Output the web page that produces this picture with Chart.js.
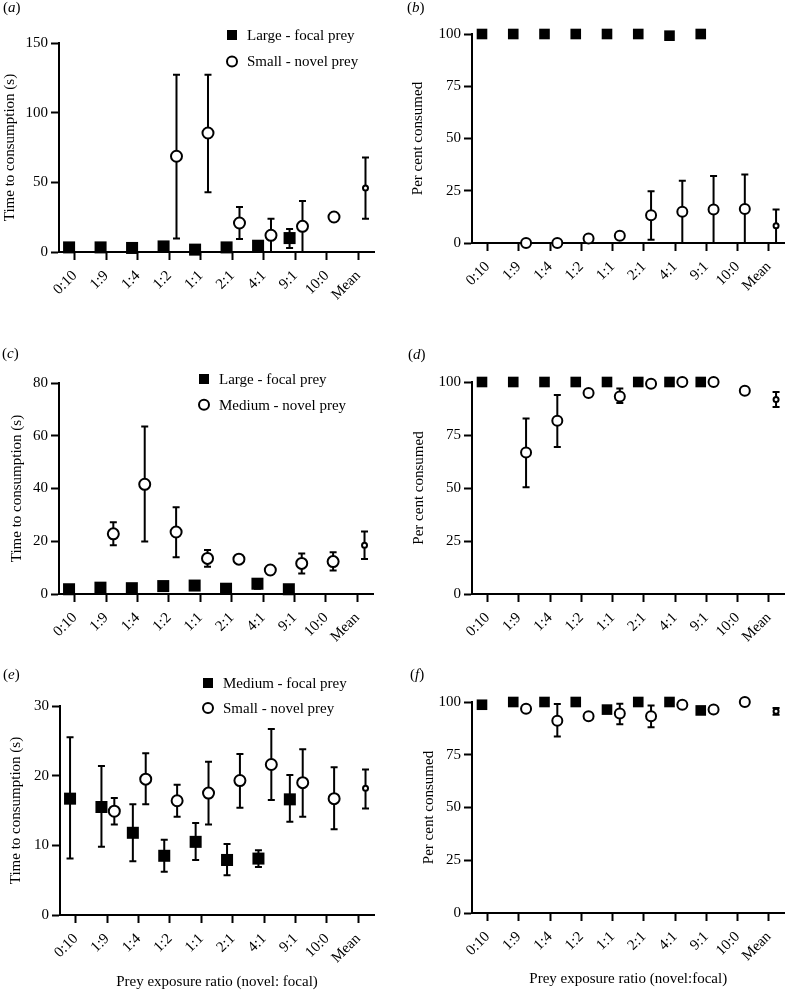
<!DOCTYPE html>
<html>
<head>
<meta charset="utf-8">
<script src="https://cdn.jsdelivr.net/npm/chart.js@4.4.0/dist/chart.umd.min.js"></script>
<style>
  body { margin: 0; background: #fff; }
  #fig { position: relative; width: 792px; height: 991px; font-family: 'Liberation Serif', serif; color: #000; }
  #fig canvas { position: absolute; }
  .tag { position: absolute; font-size: 15px; line-height: 15px; }
</style>
</head>
<body>
<div id="fig">
  <canvas id="pa" width="396" height="320" style="left:0;top:0"></canvas>
  <canvas id="pb" width="396" height="320" style="left:396px;top:0"></canvas>
  <canvas id="pc" width="396" height="335" style="left:0;top:320px"></canvas>
  <canvas id="pd" width="396" height="335" style="left:396px;top:320px"></canvas>
  <canvas id="pe" width="396" height="351" style="left:0;top:640px"></canvas>
  <canvas id="pf" width="396" height="351" style="left:396px;top:640px"></canvas>
  <div class="tag" style="left:3px;top:0">(<i>a</i>)</div>
  <div class="tag" style="left:407px;top:0">(<i>b</i>)</div>
  <div class="tag" style="left:2px;top:346px">(<i>c</i>)</div>
  <div class="tag" style="left:408px;top:347px">(<i>d</i>)</div>
  <div class="tag" style="left:3px;top:667px">(<i>e</i>)</div>
  <div class="tag" style="left:410px;top:667px">(<i>f</i>)</div>
</div>
<script>
// prey exposure ratios (novel:focal)
const ratioLabels = ['0:10', '1:9', '1:4', '1:2', '1:1', '2:1', '4:1', '9:1', '10:0', 'Mean'];

// (a) time to consumption, large focal / small novel
const aFocalMean = [3.3, 3.3, 2.9, 4.0, 1.7, 3.3, 4.5, 10.0, null, null];
const aFocalLow  = [null, null, null, null, null, null, null, 2.9, null, null];
const aFocalHigh = [null, null, null, null, null, null, null, 16.5, null, null];
const aNovelMean = [null, null, null, 68.7, 85.4, 20.8, 12.0, 18.4, 25.1, 45.9];
const aNovelLow  = [null, null, null, 9.6, 42.8, 9.3, 0, 0, null, 23.9];
const aNovelHigh = [null, null, null, 127.3, 127.3, 32.3, 23.9, 36.6, null, 67.9];

// (b) per cent consumed, large focal / small novel
const bFocalMean = [100, 100, 100, 100, 100, 100, 99.2, 100, null, null];
const bNovelMean = [null, 0, 0, 2.1, 3.5, 13.3, 14.9, 16.0, 16.3, 8.2];
const bNovelLow  = [null, null, null, null, null, 1.6, 0, 0, 0, 0];
const bNovelHigh = [null, null, null, null, null, 24.8, 29.8, 32.0, 32.8, 16.0];

// (c) time to consumption, large focal / medium novel
const cFocalMean = [1.8, 2.4, 2.2, 3.0, 3.2, 2.0, 3.9, 1.8, null, null];
const cFocalLow  = [null, null, null, null, null, null, 2.0, null, null, null];
const cFocalHigh = [null, null, null, null, null, null, 5.3, null, null, null];
const cNovelMean = [null, 22.8, 41.6, 23.5, 13.5, 13.2, 9.1, 11.6, 12.3, 18.5];
const cNovelLow  = [null, 18.5, 19.9, 13.9, 10.3, null, null, 7.8, 8.9, 13.3];
const cNovelHigh = [null, 27.2, 63.5, 32.9, 16.7, null, null, 15.4, 15.8, 23.7];

// (d) per cent consumed, large focal / medium novel
const dFocalMean = [100, 100, 100, 100, 100, 100, 100, 100, null, null];
const dNovelMean = [null, 66.8, 81.7, 94.8, 93.2, 99.2, 100, 100, 95.9, 91.7];
const dNovelLow  = [null, 50.4, 69.3, null, 90.1, null, null, null, null, 88.2];
const dNovelHigh = [null, 82.8, 93.9, null, 96.9, null, null, null, null, 95.3];

// (e) time to consumption, medium focal / small novel
const eFocalMean = [16.7, 15.5, 11.8, 8.5, 10.5, 7.9, 8.1, 16.6, null, null];
const eFocalLow  = [8.1, 9.8, 7.7, 6.2, 7.9, 5.7, 6.9, 13.4, null, null];
const eFocalHigh = [25.5, 21.4, 15.9, 10.8, 13.2, 10.2, 9.3, 20.1, null, null];
const eNovelMean = [null, 14.9, 19.5, 16.4, 17.5, 19.3, 21.6, 19.0, 16.7, 18.2];
const eNovelLow  = [null, 13.0, 15.9, 14.1, 13.0, 15.4, 16.5, 14.1, 12.3, 15.3];
const eNovelHigh = [null, 16.8, 23.2, 18.7, 22.0, 23.1, 26.7, 23.8, 21.2, 20.9];

// (f) per cent consumed, medium focal / small novel
const fFocalMean = [98.7, 100, 100, 100, 96.4, 100, 100, 96.0, null, null];
const fFocalLow  = [null, null, null, null, null, null, null, 94.6, null, null];
const fFocalHigh = [null, null, null, null, null, null, null, 97.6, null, null];
const fNovelMean = [null, 96.8, 91.1, 93.2, 94.5, 93.2, 98.7, 96.4, 100, 95.6];
const fNovelLow  = [null, null, 83.7, null, 89.5, 88.0, null, null, null, 93.9];
const fNovelHigh = [null, null, 99.0, null, 99.2, 98.4, null, null, null, 97.1];

// side-by-side dodge of the two series around each tick
const FOCAL_SHIFT = -0.18;
const NOVEL_SHIFT = 0.23;
const serif = 'Liberation Serif';

function toPoints(values, shift) {
    return values
        .map((v, i) => v === null ? null : { x: i + shift, y: v, i: i })
        .filter(p => p !== null);
}

// vertical error bars with small caps
const errorBars = {
    id: 'errorBars',
    beforeDatasetsDraw(chart) {
        const { ctx, scales: { x, y } } = chart;
        ctx.save();
        ctx.strokeStyle = '#000';
        ctx.lineWidth = 2;
        chart.data.datasets.forEach(ds => {
            ds.data.forEach(p => {
                const lo = ds.errLow[p.i], hi = ds.errHigh[p.i];
                if (lo === null || hi === null) return;
                const px = x.getPixelForValue(p.x);
                const y1 = y.getPixelForValue(lo), y2 = y.getPixelForValue(hi);
                ctx.beginPath();
                ctx.moveTo(px, y1); ctx.lineTo(px, y2);
                ctx.moveTo(px - 3.5, y1); ctx.lineTo(px + 3.5, y1);
                ctx.moveTo(px - 3.5, y2); ctx.lineTo(px + 3.5, y2);
                ctx.stroke();
            });
        });
        ctx.restore();
    }
};

// legend: filled square for focal prey, open circle for novel prey
const markerKey = {
    id: 'markerKey',
    afterDraw(chart, args, opts) {
        const ctx = chart.ctx;
        ctx.save();
        ctx.font = '15px "' + serif + '"';
        ctx.textBaseline = 'middle';
        [1, 0].forEach((di, row) => {
            const ds = chart.data.datasets[di];
            const y = opts.y + row * opts.gap;
            ctx.fillStyle = '#000';
            if (ds.pointStyle === 'rect') {
                ctx.fillRect(opts.x - 5, y - 5, 10, 10);
            } else {
                ctx.beginPath();
                ctx.arc(opts.x, y, 5, 0, Math.PI * 2);
                ctx.fillStyle = '#fff';
                ctx.fill();
                ctx.lineWidth = 2;
                ctx.strokeStyle = '#000';
                ctx.stroke();
                ctx.fillStyle = '#000';
            }
            ctx.fillText(ds.label, opts.x + 15, y + 1);
        });
        ctx.restore();
    }
};

Chart.register(errorBars, markerKey);

function panel(id, o) {
    const font = { family: serif, size: 15 };
    return new Chart(document.getElementById(id), {
        type: 'scatter',
        data: {
            datasets: [{
                label: o.novelLabel,
                data: toPoints(o.novel, NOVEL_SHIFT),
                errLow: o.novelLow, errHigh: o.novelHigh,
                pointStyle: 'circle',
                pointRadius: c => c.raw && c.raw.i === ratioLabels.length - 1 ? o.meanR : o.circleR,
                backgroundColor: '#fff',
                borderColor: '#000',
                borderWidth: 2,
                clip: false,
                order: 0
            }, {
                label: o.focalLabel,
                data: toPoints(o.focal, FOCAL_SHIFT),
                errLow: o.focalLow, errHigh: o.focalHigh,
                pointStyle: 'rect',
                pointRadius: o.squareR,
                backgroundColor: '#000',
                borderColor: '#000',
                borderWidth: 0,
                clip: false,
                order: 1
            }]
        },
        options: {
            responsive: false,
            animation: false,
            events: [],
            layout: { padding: { top: o.top, right: o.right, left: 0, bottom: 0 } },
            scales: {
                x: {
                    type: 'linear',
                    min: -0.5,
                    max: 9.5,
                    afterBuildTicks: s => { s.ticks = ratioLabels.map((_, i) => ({ value: i })); },
                    afterFit: s => { s.height = o.xh; },
                    ticks: {
                        callback: v => ratioLabels[v],
                        minRotation: 45,
                        maxRotation: 45,
                        autoSkip: false,
                        padding: 7,
                        color: '#000',
                        font: font
                    },
                    grid: { drawOnChartArea: false, tickLength: 8, tickWidth: 2, tickColor: '#000' },
                    border: { color: '#000', width: 2 },
                    title: {
                        display: !!o.xTitle,
                        text: o.xTitle || '',
                        color: '#000',
                        font: font,
                        padding: { top: 0, bottom: o.xTitlePad || 0 }
                    }
                },
                y: {
                    min: 0,
                    max: o.ymax,
                    afterFit: s => { s.width = o.yw; },
                    ticks: { stepSize: o.step, padding: 3, color: '#000', font: font },
                    grid: { drawOnChartArea: false, tickLength: 8, tickWidth: 2, tickColor: '#000' },
                    border: { color: '#000', width: 2 },
                    title: {
                        display: true,
                        text: o.yTitle,
                        color: '#000',
                        font: font,
                        padding: { top: o.yTitlePad, bottom: 0 }
                    }
                }
            },
            plugins: {
                legend: { display: false },
                tooltip: { enabled: false },
                markerKey: o.key || false
            }
        }
    });
}

const timeTitle = 'Time to consumption (s)';
const pctTitle = 'Per cent consumed';

panel('pa', {
    focal: aFocalMean, focalLow: aFocalLow, focalHigh: aFocalHigh,
    novel: aNovelMean, novelLow: aNovelLow, novelHigh: aNovelHigh,
    focalLabel: 'Large - focal prey', novelLabel: 'Small - novel prey',
    ymax: 150, step: 50, yTitle: timeTitle, yTitlePad: 1,
    top: 43, right: 22, yw: 59, xh: 68,
    squareR: 8.5, circleR: 5.5, meanR: 2.5,
    key: { x: 232, y: 35, gap: 26.5 }
});

panel('pb', {
    focal: bFocalMean, focalLow: bFocalMean.map(() => null), focalHigh: bFocalMean.map(() => null),
    novel: bNovelMean, novelLow: bNovelLow, novelHigh: bNovelHigh,
    focalLabel: 'Large - focal prey', novelLabel: 'Small - novel prey',
    ymax: 100, step: 25, yTitle: pctTitle, yTitlePad: 13,
    top: 34, right: 4, yw: 76, xh: 77,
    squareR: 7.5, circleR: 5, meanR: 2.5
});

panel('pc', {
    focal: cFocalMean, focalLow: cFocalLow, focalHigh: cFocalHigh,
    novel: cNovelMean, novelLow: cNovelLow, novelHigh: cNovelHigh,
    focalLabel: 'Large - focal prey', novelLabel: 'Medium - novel prey',
    ymax: 80, step: 20, yTitle: timeTitle, yTitlePad: 8,
    top: 63, right: 23, yw: 59, xh: 61,
    squareR: 8.5, circleR: 5.5, meanR: 2.5,
    key: { x: 204, y: 59, gap: 25.7 }
});

panel('pd', {
    focal: dFocalMean, focalLow: dFocalMean.map(() => null), focalHigh: dFocalMean.map(() => null),
    novel: dNovelMean, novelLow: dNovelLow, novelHigh: dNovelHigh,
    focalLabel: 'Large - focal prey', novelLabel: 'Medium - novel prey',
    ymax: 100, step: 25, yTitle: pctTitle, yTitlePad: 14,
    top: 62, right: 2, yw: 76, xh: 61,
    squareR: 7.5, circleR: 5, meanR: 2.5
});

panel('pe', {
    focal: eFocalMean, focalLow: eFocalLow, focalHigh: eFocalHigh,
    novel: eNovelMean, novelLow: eNovelLow, novelHigh: eNovelHigh,
    focalLabel: 'Medium - focal prey', novelLabel: 'Small - novel prey',
    ymax: 30, step: 10, yTitle: timeTitle, yTitlePad: 7,
    top: 66, right: 22, yw: 60, xh: 76,
    squareR: 8.5, circleR: 5.5, meanR: 2.5,
    xTitle: 'Prey exposure ratio (novel: focal)', xTitlePad: 0,
    key: { x: 208, y: 43, gap: 25 }
});

panel('pf', {
    focal: fFocalMean, focalLow: fFocalLow, focalHigh: fFocalHigh,
    novel: fNovelMean, novelLow: fNovelLow, novelHigh: fNovelHigh,
    focalLabel: 'Medium - focal prey', novelLabel: 'Small - novel prey',
    ymax: 100, step: 25, yTitle: pctTitle, yTitlePad: 24,
    top: 62, right: 4, yw: 76, xh: 78,
    squareR: 7.5, circleR: 5, meanR: 2.5,
    xTitle: 'Prey exposure ratio (novel:focal)', xTitlePad: 3
});
</script>
</body>
</html>
